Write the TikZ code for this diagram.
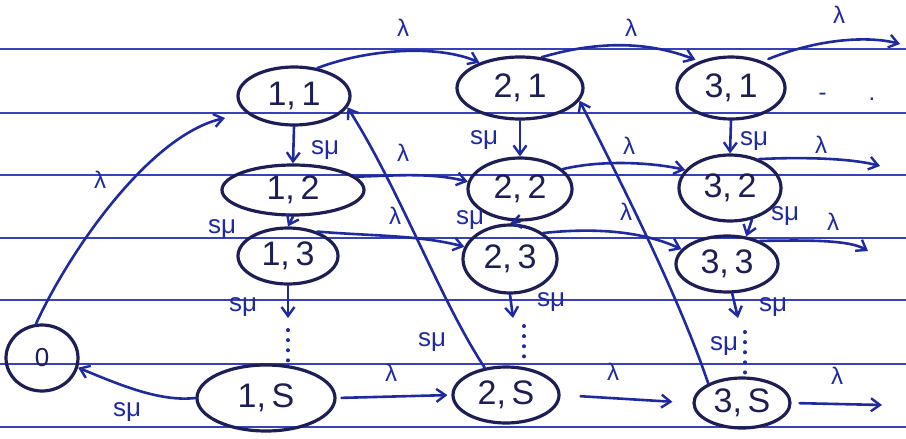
\documentclass[tikz,border=0pt]{standalone}
\usepackage{fontspec}
\setmainfont{Liberation Sans}
\usetikzlibrary{shapes.geometric,arrows.meta}
\definecolor{ink}{RGB}{28,30,85}
\definecolor{pen}{RGB}{32,42,160}
\definecolor{rulecol}{RGB}{55,65,185}
\begin{document}
\begin{tikzpicture}[x=1pt,y=-1pt,
  ell/.style={ellipse,draw=ink,line width=3.2pt,inner sep=0pt,text=ink,font=\fontsize{34}{34}\selectfont},
  arr/.style={draw=pen,line width=2.6pt,line cap=round,-{Straight Barb[length=9pt,width=13pt,line width=2.4pt]}},
  dotline/.style={draw=pen,line width=4pt,line cap=round,dash pattern=on 0.1pt off 10pt},
  lab/.style={text=pen,font=\fontsize{26}{26}\selectfont,inner sep=0pt},
  lam/.style={text=pen,font=\fontsize{24}{24}\selectfont,inner sep=0pt},
  ruled/.style={draw=rulecol,line width=1.3pt}]
\useasboundingbox (0,0) rectangle (906,439);
\fill[white] (0,0) rectangle (906,439);
\foreach \yy in {49,113,175,238,300,364,427} \draw[ruled] (0,\yy) -- (906,\yy);

% states
\node[ell,minimum width=72,minimum height=66,font=\fontsize{26}{26}\selectfont] (z) at (42,358) {0};
\node[ell,minimum width=112,minimum height=58] (a11) at (294,96) {1,\,1};
\node[ell,minimum width=142,minimum height=50] (a12) at (293,190) {1,\,2};
\node[ell,minimum width=100,minimum height=56] (a13) at (288,256) {1,\,3};
\node[ell,minimum width=138,minimum height=66] (a1s) at (266,398) {1,\,S};
\node[ell,minimum width=126,minimum height=62] (a21) at (520,88) {2,\,1};
\node[ell,minimum width=104,minimum height=62] (a22) at (520,189) {2,\,2};
\node[ell,minimum width=94,minimum height=68] (a23) at (510,259) {2,\,3};
\node[ell,minimum width=106,minimum height=56] (a2s) at (506,395) {2,\,S};
\node[ell,minimum width=108,minimum height=62] (a31) at (731,88) {3,\,1};
\node[ell,minimum width=102,minimum height=66] (a32) at (730,188) {3,\,2};
\node[ell,minimum width=102,minimum height=56] (a33) at (727,264) {3,\,3};
\node[ell,minimum width=96,minimum height=50] (a3s) at (742,403) {3,\,S};

% free ends
\coordinate (e1) at (900,44);
\coordinate (e2) at (880,166);
\coordinate (e3) at (868,251);
\coordinate (e4) at (882,405);
\coordinate (d1) at (288,318);
\coordinate (d2) at (513,318);
\coordinate (d3) at (738,318);
\coordinate (v1) at (288,330);
\coordinate (v2) at (524,326);
\coordinate (v3) at (745,332);

% lambda transitions
\draw[arr] (z.100) .. controls (70,250) and (150,135) .. (225,118);
\draw[arr] (a11.50) .. controls (370,48) and (440,45) .. (a21.148);
\draw[arr,shorten >=4pt] (a21.55) .. controls (600,40) and (650,42) .. (a31.140);
\draw[arr,shorten <=6pt] (a31.40) .. controls (820,38) and (870,36) .. (e1);
\draw[arr] (a12.12) .. controls (390,176) and (430,172) .. (a22.172);
\draw[arr] (a22.25) .. controls (600,160) and (650,162) .. (a32.158);
\draw[arr] (a32.45) .. controls (800,157) and (850,158) .. (e2);
\draw[arr] (a13.40) .. controls (370,236) and (420,235) .. (a23.165);
\draw[arr] (a23.38) .. controls (590,228) and (640,230) .. (a33.162);
\draw[arr] (a33.35) .. controls (810,240) and (850,240) .. (e3);
\draw[arr,shorten <=5pt,shorten >=4pt] (a1s.east) -- (a2s.west);
\draw[arr,shorten <=20pt,shorten >=20pt] (a2s.east) -- (a3s.west);
\draw[arr,shorten <=8pt] (a3s.east) -- (e4);

% s mu transitions
\draw[arr] (a1s.west) .. controls (160,402) and (120,385) .. (z.-15);
\draw[arr] (a11.south) -- (a12.north);
\draw[arr] (a12.south) -- (a13.north);
\draw[arr] (a13.south) -- (d1);
\draw[arr] (a21.south) -- (a22.north);
\draw[arr] (a22.south) -- (a23.north);
\draw[arr] (a23.south) -- (d2);
\draw[arr] (a31.south) -- (a32.north);
\draw[arr] (a32.-55) -- (a33.55);
\draw[arr] (a33.-80) -- (d3);
\draw[arr] (a2s.128) .. controls (440,300) and (400,190) .. (a11.-12);
\draw[arr] (a3s.150) .. controls (680,300) and (625,190) .. (a21.-12);

% dots
\draw[dotline] (v1) -- (v1 |- a1s.north);
\draw[dotline] (v2) -- (v2 |- a2s.72);
\draw[dotline] (v3) -- (v3 |- a3s.82);

% labels
\node[lam] (l1) at (100,180) {λ};
\node[lam] (l2) at (403,28) {λ};
\node[lam] (l3) at (631,28) {λ};
\node[lam] (l4) at (839,15) {λ};
\node[lam] (l5) at (403,153) {λ};
\node[lam] (l6) at (629,146) {λ};
\node[lam] (l7) at (821,145) {λ};
\node[lam] (l8) at (395,216) {λ};
\node[lam] (l9) at (626,212) {λ};
\node[lam] (l10) at (833,222) {λ};
\node[lam] (l11) at (391,373) {λ};
\node[lam] (l12) at (613,372) {λ};
\node[lam] (l13) at (837,376) {λ};

\node[lab] (m1) at (325,150) {sμ};
\node[lab] (m2) at (222,229) {sμ};
\node[lab] (m3) at (243,307) {sμ};
\node[lab] (m4) at (484,140) {sμ};
\node[lab] (m5) at (470,220) {sμ};
\node[lab] (m6) at (551,302) {sμ};
\node[lab] (m7) at (754,141) {sμ};
\node[lab] (m8) at (785,216) {sμ};
\node[lab] (m9) at (773,307) {sμ};
\node[lab] (m10) at (432,342) {sμ};
\node[lab] (m11) at (724,346) {sμ};
\node[lab] (m12) at (127,412) {sμ};

\node[lam] (dd) at (847,97) {-\hspace{42pt}.};
\end{tikzpicture}
\end{document}
